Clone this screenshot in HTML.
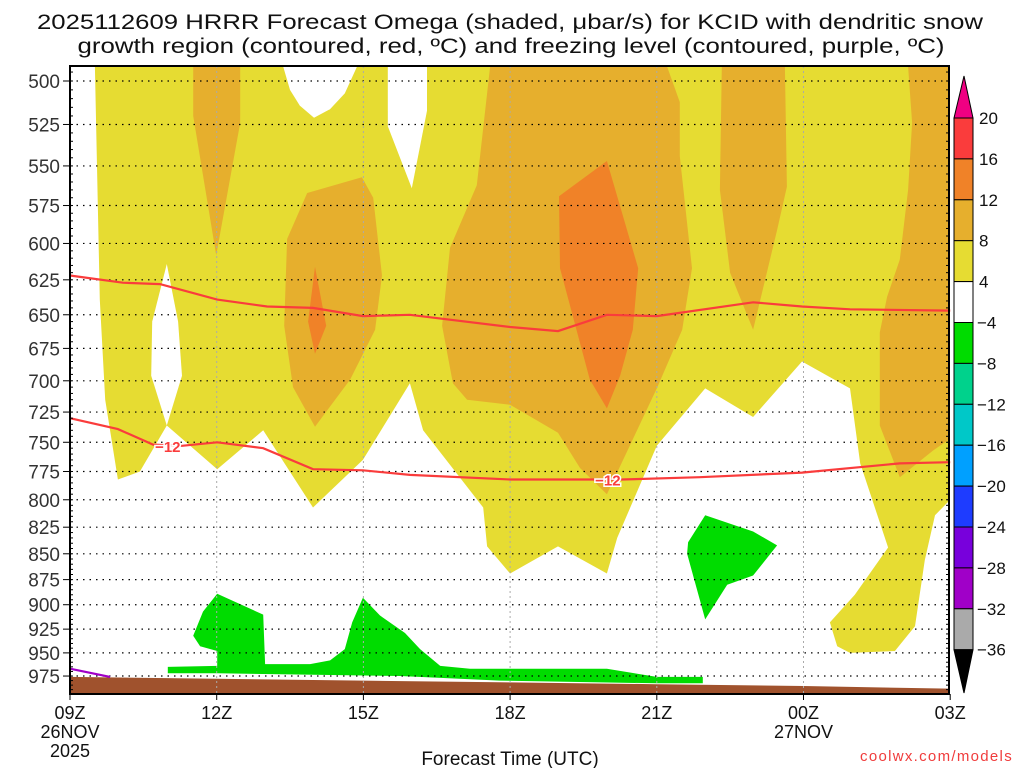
<!DOCTYPE html>
<html><head><meta charset="utf-8"><style>
html,body{margin:0;padding:0;background:#fff;}
svg{display:block;font-family:"Liberation Sans",sans-serif;}
</style></head><body>
<svg id="chart" width="1024" height="768" viewBox="0 0 1024 768" xmlns="http://www.w3.org/2000/svg">
<g id="title">
<text x="510" y="29" font-size="21" text-anchor="middle" textLength="946" lengthAdjust="spacingAndGlyphs" fill="#111">2025112609 HRRR Forecast Omega (shaded, μbar/s) for KCID with dendritic snow</text>
<text x="511" y="53" font-size="21" text-anchor="middle" textLength="867" lengthAdjust="spacingAndGlyphs" fill="#111">growth region (contoured, red, ºC) and freezing level (contoured, purple, ºC)</text>
</g>
<g id="fills"></g>
<g id="grid"></g>
<g id="contours"></g>
<g id="axes"></g>
<g id="cbar"></g>
<text x="510" y="765" font-size="19" text-anchor="middle" fill="#111">Forecast Time (UTC)</text>
<text x="1013" y="761" font-size="15" text-anchor="end" fill="#f03c3c" letter-spacing="1.3">coolwx.com/models</text>
</svg>
<script>
// ---- data (hour since 09Z, pressure hPa) ----
const pressureTicks=[500,525,550,575,600,625,650,675,700,725,750,775,800,825,850,875,900,925,950,975];
const timeTicks=[0,3,6,9,12,15,18];
const timeLabels=["09Z","12Z","15Z","18Z","21Z","00Z","03Z"];
const dateLabels={0:["26NOV","2025"],15:["27NOV"]};
const cbLevels=[20,16,12,8,4,-4,-8,-12,-16,-20,-24,-28,-32,-36];
const cbColors=["#fa3c3c","#f08228","#e6af2d","#e6dc32","#ffffff","#00dc00","#00d28c","#00c8c8","#00a0ff","#1e3cff","#7800dc","#a000c8","#aaaaaa"];
const yellowArea=[[0.51,492],[0.61,639],[0.72,715],[0.98,782],[1.43,775],[1.98,736],[3.01,773],[3.95,740],[4.97,807],[5.99,765],[6.95,702],[7.22,740],[8.45,807],[8.53,843],[9.0,869],[9.98,843],[10.98,869],[11.19,835],[12.0,753],[12.99,706],[13.97,729],[14.97,685],[15.95,706],[16.16,768],[16.73,844],[16.05,890],[15.54,918],[15.69,943],[15.95,950],[16.87,948],[17.28,922],[17.48,856],[17.69,814],[18.0,800],[18.0,492]];
const whiteHoles=[
 [[4.36,492],[4.5,505],[4.7,514],[4.99,521],[5.32,516],[5.62,507],[5.87,492]],
 [[6.5,492],[6.5,526],[6.99,564],[7.3,517],[7.3,492]],
 [[1.98,614],[1.68,655],[1.66,696],[1.98,736],[2.29,696],[2.21,655]]
];
const orangeAreas=[
 [[2.52,492],[2.52,520],[2.99,608],[3.48,524],[3.48,492]],
 [[4.85,567],[5.97,557],[6.2,570],[6.38,622],[6.24,661],[5.73,699],[5.01,737],[4.56,705],[4.38,658],[4.44,597]],
 [[8.59,492],[8.32,562],[7.77,603],[7.61,658],[7.83,702],[8.12,715],[9.0,719],[9.98,742],[10.43,772],[10.98,795],[12.0,706],[12.52,661],[12.72,617],[12.47,544],[12.47,512],[12.21,492]],
 [[13.33,492],[13.29,565],[13.5,620],[13.97,661],[14.46,591],[14.66,563],[14.62,492]],
 [[17.14,492],[17.22,524],[17.14,565],[16.97,611],[16.71,637],[16.56,663],[16.56,736],[16.97,780],[17.65,757],[18.0,747],[18.0,492]]
];
const darkOrangeAreas=[
 [[5.01,616],[5.24,658],[5.01,679],[4.87,655]],
 [[10.0,569],[10.98,547],[11.62,617],[11.51,661],[11.25,696],[10.98,722],[10.63,699],[10.02,617]]
];
const greenAreas=[
 [[2.0,965],[3.01,964],[3.01,948],[2.66,943],[2.52,932],[2.72,907],[3.01,889],[3.95,910],[3.99,962],[4.91,962],[5.32,958],[5.62,946],[5.77,918],[5.99,893],[6.34,911],[6.85,929],[7.16,946],[7.57,964],[8.18,967],[10.98,967],[12.0,976],[12.94,976],[12.94,983],[12.0,983],[8.79,980],[6.75,975],[3.01,972],[2.0,972]],
 [[12.99,814],[13.97,829],[14.46,842],[13.97,871],[13.44,880],[12.99,915],[12.62,850],[12.64,839]]
];
const surfHours=[0,3,6,9,12,15,18];
const surfPres=[976,978,980,982,984,986,989];
const dgzUpper=[[0,622],[1.08,627],[1.84,628],[3.01,639],[4.03,644],[4.97,645],[5.99,651],[6.95,650],[9.0,659],[9.98,662],[10.98,650],[12.0,651],[13.97,641],[14.97,644],[15.95,646],[18.0,647]];
const dgzLower=[[0,730],[0.98,739],[1.7,752],[2.29,753],[3.01,750],[3.95,755],[4.97,773],[5.99,774],[6.95,778],[9.0,782],[10.7,782],[11.29,782],[12.88,780],[14.97,776],[16.97,768],[18.0,767]];
const dgzLabels=[[2.0,753,"-12"],[11.0,782,"-12"]];
const freezeLine=[[0,967],[0.82,976]];

// ---- axes ----
const X0=70,X1=949,Y0=66,Y1=694;
const x=h=>X0+h*48.9;
const y=p=>81+891*Math.log(p/500);
const NS="http://www.w3.org/2000/svg";
function mk(tag,parent,attrs){const e=document.createElementNS(NS,tag);for(const k in attrs)e.setAttribute(k,attrs[k]);parent.appendChild(e);return e;}
const pts=a=>a.map(d=>x(d[0]).toFixed(1)+","+y(Math.min(d[1],1000)).toFixed(1)).join(" ");
const fills=document.getElementById('fills');
mk('clipPath',document.getElementById('chart'),{id:'plotclip'}).appendChild(Object.assign(document.createElementNS(NS,'rect'),{}));
document.querySelector('#plotclip rect').setAttribute('x',X0);document.querySelector('#plotclip rect').setAttribute('y',Y0);
document.querySelector('#plotclip rect').setAttribute('width',X1-X0);document.querySelector('#plotclip rect').setAttribute('height',Y1-Y0);
fills.setAttribute('clip-path','url(#plotclip)');
let e=mk('polygon',fills,{points:pts(yellowArea),fill:'#e6dc32'});

whiteHoles.forEach(a=>{const p=mk('polygon',fills,{points:pts(a),fill:'#fff'});
});
orangeAreas.forEach(a=>{const p=mk('polygon',fills,{points:pts(a),fill:'#e6af2d'});
});
darkOrangeAreas.forEach(a=>{const p=mk('polygon',fills,{points:pts(a),fill:'#f08228'});
});
greenAreas.forEach(a=>{const p=mk('polygon',fills,{points:pts(a),fill:'#00dc00'});
});
const ground=surfHours.map((h,i)=>[h,surfPres[i]]).concat([[18,1000],[0,1000]]);
e=mk('polygon',fills,{points:pts(ground),fill:'#a0522d'});


// grid
const grid=document.getElementById('grid');
pressureTicks.forEach(p=>{const l=mk('line',grid,{x1:X0,x2:X1,y1:y(p),y2:y(p),stroke:'#000','stroke-width':1.2,'stroke-dasharray':'1.5 5'});
});
timeTicks.slice(1,-1).forEach(h=>{const l=mk('line',grid,{x1:x(h),x2:x(h),y1:Y0,y2:Y1,stroke:'#aaa','stroke-width':1,'stroke-dasharray':'2 3'});
});

// contours
const cont=document.getElementById('contours');
[dgzUpper,dgzLower].forEach(a=>{const l=mk('polyline',cont,{points:pts(a),fill:'none',stroke:'#fa3c3c','stroke-width':2.2});
});
dgzLabels.forEach(d=>{const r=mk('rect',cont,{x:x(d[0])-14,y:y(d[1])-7,width:28,height:14,fill:'#fff',opacity:0});
const t=mk('text',cont,{x:x(d[0]),y:y(d[1])+6,'text-anchor':'middle','font-size':15,'font-weight':'bold',fill:'#fa3c3c',stroke:'#fff','stroke-width':3,'paint-order':'stroke'});
t.textContent=d[2].replace('-','\u2212');
});
e=mk('polyline',cont,{points:pts(freezeLine),fill:'none',stroke:'#a000c8','stroke-width':2.2});


// axes
const ax=document.getElementById('axes');
mk('rect',ax,{x:X0,y:Y0,width:X1-X0,height:Y1-Y0,fill:'none',stroke:'#000','stroke-width':2});
for(let p=495;p<=995;p+=5){const yy=y(p);if(yy<Y0||yy>Y1)continue;mk('line',ax,{x1:X0,x2:X0+3,y1:yy,y2:yy,stroke:'#000','stroke-width':1});mk('line',ax,{x1:X1-3,x2:X1,y1:yy,y2:yy,stroke:'#000','stroke-width':1});}
pressureTicks.forEach(p=>{mk('line',ax,{x1:X0-7,x2:X0,y1:y(p),y2:y(p),stroke:'#000','stroke-width':1});
const t=mk('text',ax,{x:X0-10,y:y(p)+7,'text-anchor':'end','font-size':19,fill:'#333'});t.textContent=p;
});
timeTicks.forEach((h,i)=>{mk('line',ax,{x1:x(h),x2:x(h),y1:Y1,y2:Y1+6,stroke:'#000','stroke-width':1});
const t=mk('text',ax,{x:x(h),y:719,'text-anchor':'middle','font-size':18,fill:'#111'});t.textContent=timeLabels[i];

(dateLabels[h]||[]).forEach((s,j)=>{const d=mk('text',ax,{x:x(h),y:738+j*19,'text-anchor':'middle','font-size':18,fill:'#111'});d.textContent=s;
});});

// colorbar
const cb=document.getElementById('cbar');
const cby=v=>118+(20-v)*41/4*(v>=4?1:1)-(v<=-4?0:0);
const cbPos=cbLevels.map((v,i)=>118+i*40.9);
mk('polygon',cb,{points:`954,${cbPos[0]} 964,76 973,${cbPos[0]}`,fill:'#f00082',stroke:'#000','stroke-width':1});
cbColors.forEach((c,i)=>{const r=mk('rect',cb,{x:954,y:cbPos[i],width:19,height:cbPos[i+1]-cbPos[i],fill:c,stroke:'#000','stroke-width':1});
});
mk('polygon',cb,{points:`954,${cbPos[13]} 964,693 973,${cbPos[13]}`,fill:'#000',stroke:'#000','stroke-width':1});
cbLevels.forEach((v,i)=>{const t=mk('text',cb,{x:v<0?977:979,y:cbPos[i]+6,'font-size':17,fill:'#111'});t.textContent=(v<0?'\u2212'+(-v):v);
});
</script>
</body></html>
